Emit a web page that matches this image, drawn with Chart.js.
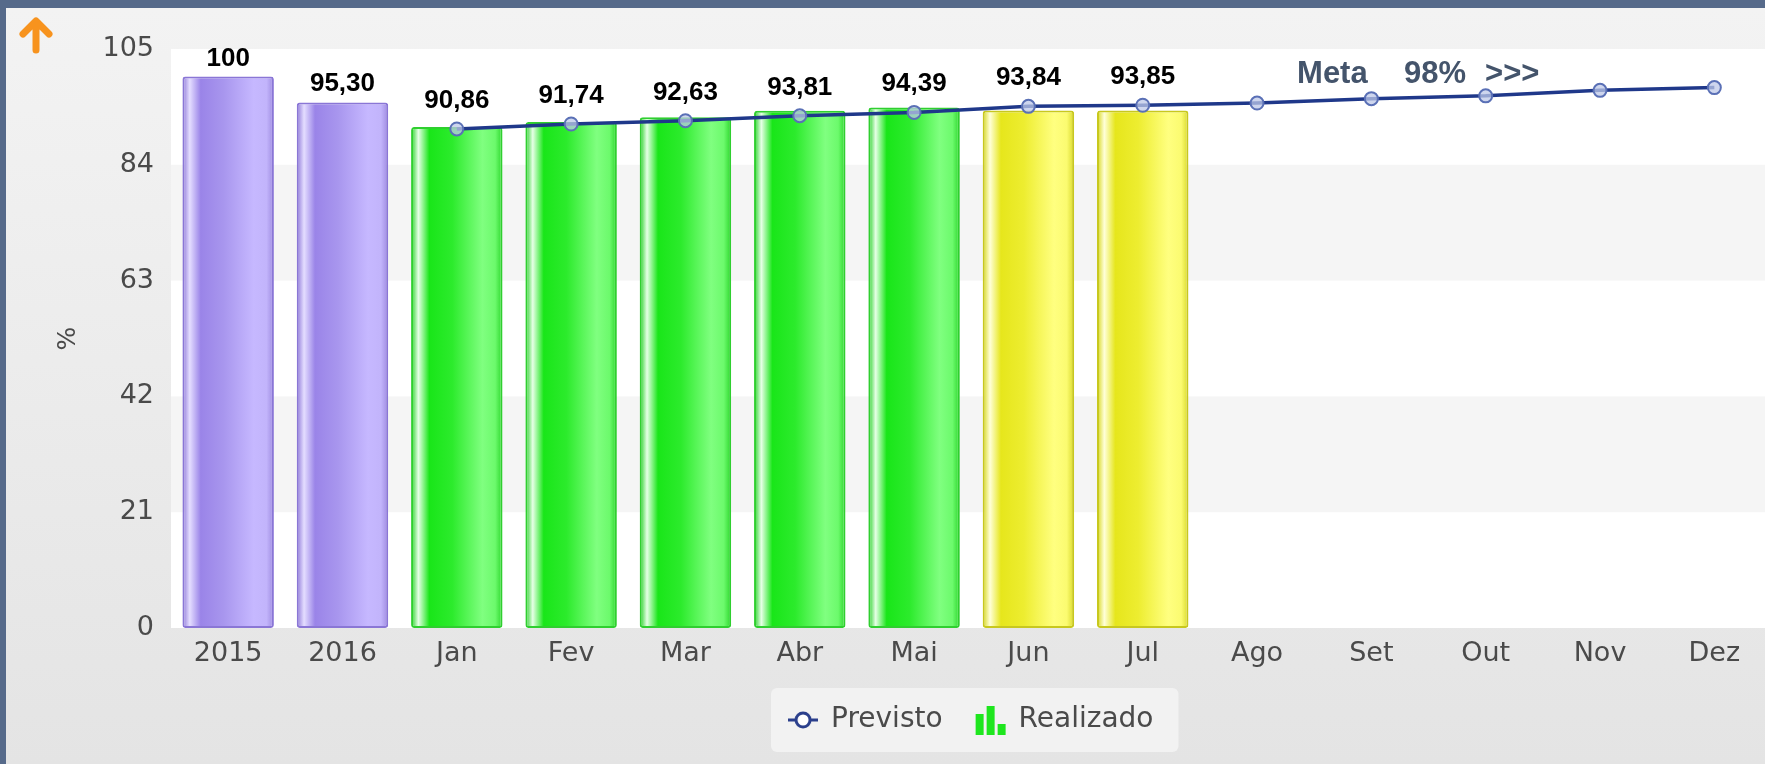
<!DOCTYPE html>
<html>
<head>
<meta charset="utf-8">
<script src="https://cdn.jsdelivr.net/npm/chart.js@4.4.0/dist/chart.umd.min.js"></script>
<style>
  html, body { margin: 0; padding: 0; width: 1765px; height: 764px; overflow: hidden; }
  #frame {
    position: absolute; left: 0; top: 0; width: 1765px; height: 764px;
    box-sizing: border-box;
    border-top: 8px solid #566a8a; border-left: 6px solid #566a8a;
    background: linear-gradient(#f3f3f3, #e4e4e4);
  }
  #arrow { position: absolute; left: 16px; top: 14px; }
  #grafico { position: absolute; left: 0; top: 0; }
</style>
</head>
<body>
<div id="frame"></div>
<svg id="arrow" width="40" height="40" viewBox="0 0 40 40">
  <path d="M20 36 V8 M7 20 L20 7 L33 20" stroke="#f7931e" stroke-width="7" fill="none" stroke-linecap="round" stroke-linejoin="round"/>
</svg>
<canvas id="grafico" width="1780" height="764"></canvas>
<script>
const meses = ["2015", "2016", "Jan", "Fev", "Mar", "Abr", "Mai", "Jun", "Jul", "Ago", "Set", "Out", "Nov", "Dez"];
const realizado = [100, 95.30, 90.86, 91.74, 92.63, 93.81, 94.39, 93.84, 93.85, null, null, null, null, null];
const previsto = [null, null, 90.5, 91.4, 92.0, 92.9, 93.5, 94.6, 94.8, 95.2, 96.0, 96.5, 97.5, 98.0];
const ticksY = [0, 21, 42, 63, 84, 105];
const meta = "98%";

const roxo = ["#8e78d8", "#e4ddff", "#9a84e8", "#a896ee", "#c6b8ff", "#c2b4fb", "#9d8ae0"];
const verde = ["#20d020", "#e6ffe6", "#19e619", "#2ceb2c", "#80ff80", "#6cfa6c", "#2bd62b"];
const amarelo = ["#d6d61a", "#ffffd8", "#e6e61c", "#eded30", "#ffff80", "#fbfb70", "#d8d82a"];

function paleta(i) {
  if (i < 2) return roxo;
  return realizado[i] >= previsto[i] ? verde : amarelo;
}

function barFill(ctx) {
  const p = paleta(ctx.dataIndex);
  const chart = ctx.chart;
  const x = chart.scales.x;
  if (!x || !chart.chartArea) return p[2];
  const cx = x.getPixelForValue(ctx.dataIndex);
  const w = x.width / meses.length * 0.8;
  const g = chart.ctx.createLinearGradient(cx - w / 2, 0, cx + w / 2, 0);
  g.addColorStop(0, p[0]);
  g.addColorStop(0.08, p[1]);
  g.addColorStop(0.2, p[2]);
  g.addColorStop(0.45, p[3]);
  g.addColorStop(0.78, p[4]);
  g.addColorStop(0.92, p[5]);
  g.addColorStop(1, p[6]);
  return g;
}

function barBorder(ctx) {
  const i = ctx.dataIndex;
  if (i < 2) return "#8a76d6";
  return paleta(i) === verde ? "#2fcf2f" : "#c8c81e";
}

// icones da legenda
const iconePrev = document.createElement("canvas");
iconePrev.width = 30; iconePrev.height = 20;
(function () {
  const c = iconePrev.getContext("2d");
  c.strokeStyle = "#2b3f8c"; c.lineWidth = 3;
  c.beginPath(); c.moveTo(0, 10); c.lineTo(30, 10); c.stroke();
  c.beginPath(); c.arc(15, 10, 7, 0, Math.PI * 2);
  c.fillStyle = "#fff"; c.fill(); c.stroke();
})();
const iconeReal = document.createElement("canvas");
iconeReal.width = 32; iconeReal.height = 30;
(function () {
  const c = iconeReal.getContext("2d");
  c.fillStyle = "#1ee61e";
  c.fillRect(1, 9, 8, 21);
  c.fillRect(12, 1, 8, 29);
  c.fillRect(23, 19, 8, 11);
})();

const fundo = {
  id: "fundo",
  beforeDraw(chart) {
    const { ctx, chartArea: a, scales: { y } } = chart;
    ctx.save();
    ctx.fillStyle = "#ffffff";
    ctx.fillRect(a.left, a.top, a.right - a.left, a.bottom - a.top);
    ctx.fillStyle = "#f5f5f5";
    for (let k = 1; k < ticksY.length - 1; k += 2) {
      const t = y.getPixelForValue(ticksY[ticksY.length - 1 - k]);
      const b = y.getPixelForValue(ticksY[ticksY.length - 2 - k]);
      ctx.fillRect(a.left, t, a.right - a.left, b - t);
    }
    // painel da legenda
    const hb = chart.legend.legendHitBoxes;
    if (hb && hb.length) {
      const l = hb[0].left - 18;
      const r = hb[hb.length - 1].left + hb[hb.length - 1].width + 25;
      const cy = hb[0].top + hb[0].height / 2;
      ctx.fillStyle = "#f2f2f2";
      ctx.beginPath();
      ctx.roundRect(l, cy - 32, r - l, 64, 6);
      ctx.fill();
    }
    ctx.restore();
  },
  afterDatasetsDraw(chart) {
    const { ctx } = chart;
    const barras = chart.getDatasetMeta(1).data;
    const pontos = chart.getDatasetMeta(0).data;
    ctx.save();
    ctx.font = "bold 26px 'Liberation Sans', Arial, sans-serif";
    ctx.fillStyle = "#000";
    ctx.textAlign = "center";
    ctx.textBaseline = "alphabetic";
    barras.forEach((b, i) => {
      if (realizado[i] == null) return;
      let topo = b.y;
      if (previsto[i] != null && pontos[i]) topo = Math.min(topo, pontos[i].y - 10);
      ctx.fillText(realizado[i].toFixed(i === 0 ? 0 : 2).replace(".", ","), b.x, topo - 11);
    });
    const x0 = chart.scales.x.getPixelForValue(9) + 40;
    ctx.fillStyle = "#44546b";
    ctx.font = "bold 31px 'Liberation Sans', Arial, sans-serif";
    ctx.textAlign = "left";
    ctx.textBaseline = "middle";
    ctx.fillText("Meta", x0, 74);
    ctx.fillText(meta, x0 + 107, 74);
    ctx.fillText(">>>", x0 + 188, 74);
    ctx.restore();
  }
};

const fonteEixo = { family: "'DejaVu Sans', Verdana, sans-serif", size: 27 };

new Chart(document.getElementById("grafico"), {
  type: "bar",
  data: {
    labels: meses,
    datasets: [
      {
        type: "line",
        label: "Previsto",
        data: previsto,
        order: 0,
        borderColor: "#1f388a",
        borderWidth: 3.5,
        tension: 0,
        pointRadius: 6.5,
        pointBackgroundColor: "rgba(190,200,232,0.75)",
        pointBorderColor: "#5a70b6",
        pointBorderWidth: 2
      },
      {
        label: "Realizado",
        data: realizado,
        order: 1,
        backgroundColor: barFill,
        borderColor: barBorder,
        borderWidth: 2,
        borderRadius: 3,
        borderSkipped: false,
        barPercentage: 0.8,
        categoryPercentage: 1
      }
    ]
  },
  options: {
    responsive: false,
    animation: false,
    layout: { padding: { left: 0, right: 7, top: 49, bottom: 20 } },
    scales: {
      x: {
        afterFit: s => { s.height = 44; },
        grid: { display: false },
        border: { display: false },
        ticks: { font: fonteEixo, color: "#4a4a4a", padding: 2, maxRotation: 0 }
      },
      y: {
        min: 0,
        max: 105,
        afterFit: s => { s.width = 171; },
        afterBuildTicks: s => { s.ticks = ticksY.map(v => ({ value: v })); },
        grid: { display: false },
        border: { display: false },
        ticks: { font: fonteEixo, color: "#4a4a4a", padding: 9 },
        title: {
          display: true,
          text: "%",
          color: "#4a4a4a",
          font: { family: "'DejaVu Sans', Verdana, sans-serif", size: 25 },
          padding: { top: 53, bottom: 0 }
        }
      }
    },
    plugins: {
      tooltip: { enabled: false },
      legend: {
        position: "bottom",
        fullSize: false,
        labels: {
          usePointStyle: true,
          padding: 34,
          font: { family: "'DejaVu Sans', Verdana, sans-serif", size: 28 },
          color: "#4a4a4a",
          generateLabels: () => [
            { text: "Previsto", pointStyle: iconePrev, fontColor: "#4a4a4a", lineWidth: 0, strokeStyle: "transparent", hidden: false, datasetIndex: 0 },
            { text: "Realizado", pointStyle: iconeReal, fontColor: "#4a4a4a", lineWidth: 0, strokeStyle: "transparent", hidden: false, datasetIndex: 1 }
          ]
        }
      }
    }
  },
  plugins: [fundo]
});
</script>
</body>
</html>
